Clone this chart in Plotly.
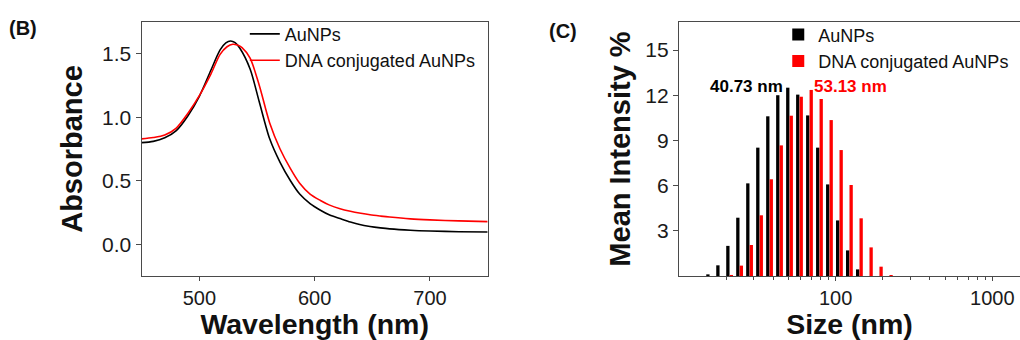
import math
import plotly.graph_objects as go

# ---------------- Data: (B) UV-Vis absorbance ----------------
wl_aunp = [450, 460, 470, 480, 490, 500, 510, 518, 523, 527, 531, 535, 544, 552,
           561, 570, 579, 587, 596, 605, 613, 622, 631, 639, 648, 657, 665, 683,
           700, 725, 750]
abs_aunp = [0.80, 0.81, 0.838, 0.895, 1.01, 1.165, 1.37, 1.53, 1.585, 1.60, 1.587,
            1.545, 1.38, 1.12, 0.83, 0.645, 0.50, 0.395, 0.32, 0.268, 0.23,
            0.202, 0.175, 0.155, 0.14, 0.129, 0.121, 0.11, 0.104, 0.099, 0.097]

wl_dna = [450, 460, 470, 480, 490, 500, 510, 518, 524, 529, 533, 537, 544, 552,
          561, 570, 579, 587, 596, 605, 613, 622, 631, 640, 648, 657, 665, 683,
          700, 725, 750]
abs_dna = [0.83, 0.84, 0.86, 0.915, 1.03, 1.17, 1.34, 1.495, 1.555, 1.575, 1.568,
           1.548, 1.465, 1.25, 0.955, 0.75, 0.595, 0.48, 0.395, 0.345, 0.308,
           0.28, 0.26, 0.244, 0.232, 0.222, 0.214, 0.200, 0.192, 0.184, 0.178]

# ---------------- Data: (C) DLS size distribution ----------------
size_bins = [15.69, 18.17, 21.04, 24.36, 28.21, 32.67, 37.84, 43.82, 50.75, 58.77,
             68.06, 78.82, 91.28, 105.7, 122.4, 141.8, 164.2, 190.1, 220.2]
int_aunp = [0.11, 0.71, 2.0, 3.87, 6.15, 8.52, 10.6, 12.0, 12.5, 12.04,
            10.66, 8.52, 6.08, 3.69, 1.70, 0.44, 0, 0, 0]
int_dna = [0, 0, 0.07, 0.69, 2.06, 4.03, 6.42, 8.67, 10.64, 11.9,
           12.35, 11.75, 10.35, 8.36, 6.04, 3.83, 1.90, 0.62, 0.05]

series_names = ["AuNPs", "DNA conjugated AuNPs"]
peak_labels = ["40.73 nm", "53.13 nm"]
left_yticks = [0.0, 0.5, 1.0, 1.5]
left_xticks = [500, 600, 700]
right_yticks = [3, 6, 9, 12, 15]
right_xticks = [100, 1000]
right_minor = [20, 30, 40, 50, 60, 70, 80, 90, 200, 300, 400, 500, 600, 700, 800, 900]
size_range = [10, 1503]

log_bins = [math.log10(v) for v in size_bins]

FONT = "Liberation Sans, Arial, sans-serif"
AXC = "#4a4a4a"

fig = go.Figure()

fig.add_trace(go.Scatter(x=wl_aunp, y=abs_aunp, mode="lines", name=series_names[0],
                         line=dict(color="#000000", width=1.6, shape="spline", smoothing=0.8),
                         xaxis="x", yaxis="y", legend="legend"))
fig.add_trace(go.Scatter(x=wl_dna, y=abs_dna, mode="lines", name=series_names[1],
                         line=dict(color="#ff0000", width=1.6, shape="spline", smoothing=0.8),
                         xaxis="x", yaxis="y", legend="legend"))

fig.add_trace(go.Bar(x=log_bins, y=int_aunp, name=series_names[0],
                     customdata=size_bins, hovertemplate="%{customdata} nm: %{y}<extra></extra>",
                     marker=dict(color="#000000", line=dict(width=0)),
                     xaxis="x2", yaxis="y2", legend="legend2"))
fig.add_trace(go.Bar(x=log_bins, y=int_dna, name=series_names[1],
                     customdata=size_bins, hovertemplate="%{customdata} nm: %{y}<extra></extra>",
                     marker=dict(color="#ff0000", line=dict(width=0)),
                     xaxis="x2", yaxis="y2", legend="legend2"))

axis_common = dict(showline=True, linecolor=AXC, linewidth=1.3, ticks="outside",
                   tickcolor=AXC, tickwidth=1.2, showgrid=False, zeroline=False)
TICKF = dict(family=FONT, size=21, color="#1a1a1a")
XTICKF = dict(family=FONT, size=20, color="#1a1a1a")

fig.update_layout(
    width=1020, height=340,
    margin=dict(l=0, r=0, t=0, b=0),
    paper_bgcolor="white", plot_bgcolor="white",
    font=dict(family=FONT, color="#111111"),
    barmode="group", bargap=0.3, bargroupgap=0.05,
    xaxis=dict(domain=[0.1389, 0.4781], range=[450, 750], tickvals=left_xticks,
               mirror=True, anchor="y", ticklen=4, tickfont=XTICKF,
               title=dict(text="<b>Wavelength (nm)</b>", font=dict(family=FONT, size=28.5, color="#111"),
                          standoff=6),
               **axis_common),
    yaxis=dict(domain=[0.1882, 0.9353], range=[-0.25, 1.75], tickvals=left_yticks,
               tickformat=".1f", mirror=True, anchor="x", ticklen=5, tickfont=TICKF,
               title=dict(text="<b>Absorbance</b>", font=dict(family=FONT, size=29, color="#111"),
                          standoff=10),
               **axis_common),
    xaxis2=dict(domain=[0.6657, 1.0], range=[math.log10(size_range[0]), math.log10(size_range[1])],
                tickvals=[math.log10(v) for v in right_xticks],
                ticktext=[str(v) for v in right_xticks], mirror=True, anchor="y2", ticklen=4,
                tickfont=XTICKF,
                minor=dict(ticks="outside", ticklen=3, tickcolor=AXC, tickwidth=1,
                           tickvals=[math.log10(v) for v in right_minor]),
                title=dict(text="<b>Size (nm)</b>", font=dict(family=FONT, size=28.5, color="#111"),
                           standoff=6),
                **axis_common),
    yaxis2=dict(domain=[0.1882, 0.9353], range=[0, 16.86], tickvals=right_yticks,
                mirror=False, anchor="x2", ticklen=5, tickfont=TICKF,
                title=dict(text="<b>Mean Intensity %</b>", font=dict(family=FONT, size=29, color="#111"),
                           standoff=6),
                **axis_common),
    legend=dict(x=0.240, y=0.954, xanchor="left", yanchor="top", bgcolor="rgba(0,0,0,0)",
                font=dict(family=FONT, size=18, color="#111"), tracegroupgap=0,
                itemwidth=30),
    legend2=dict(x=0.763, y=0.952, xanchor="left", yanchor="top", bgcolor="rgba(0,0,0,0)",
                 font=dict(family=FONT, size=18, color="#111"), tracegroupgap=0,
                 itemwidth=30),
    annotations=[
        dict(text="<b>(B)</b>", x=23 / 1020, y=1 - 27.5 / 340, xref="paper", yref="paper",
             xanchor="center", yanchor="middle",
             showarrow=False, font=dict(family=FONT, size=20, color="#111")),
        dict(text="<b>(C)</b>", x=563 / 1020, y=1 - 31 / 340, xref="paper", yref="paper",
             xanchor="center", yanchor="middle",
             showarrow=False, font=dict(family=FONT, size=20, color="#111")),
        dict(text="<b>" + peak_labels[0] + "</b>", x=746.7 / 1020, y=1 - 86 / 340,
             xref="paper", yref="paper", xanchor="center", yanchor="middle",
             showarrow=False, font=dict(family=FONT, size=17, color="#000000")),
        dict(text="<b>" + peak_labels[1] + "</b>", x=850 / 1020, y=1 - 86 / 340,
             xref="paper", yref="paper", xanchor="center", yanchor="middle",
             showarrow=False, font=dict(family=FONT, size=17, color="#ff0000")),
    ],
)

fig.write_html("out.html", config={"displayModeBar": False},
               post_script="document.body.style.margin='0';document.body.style.overflow='hidden';")
